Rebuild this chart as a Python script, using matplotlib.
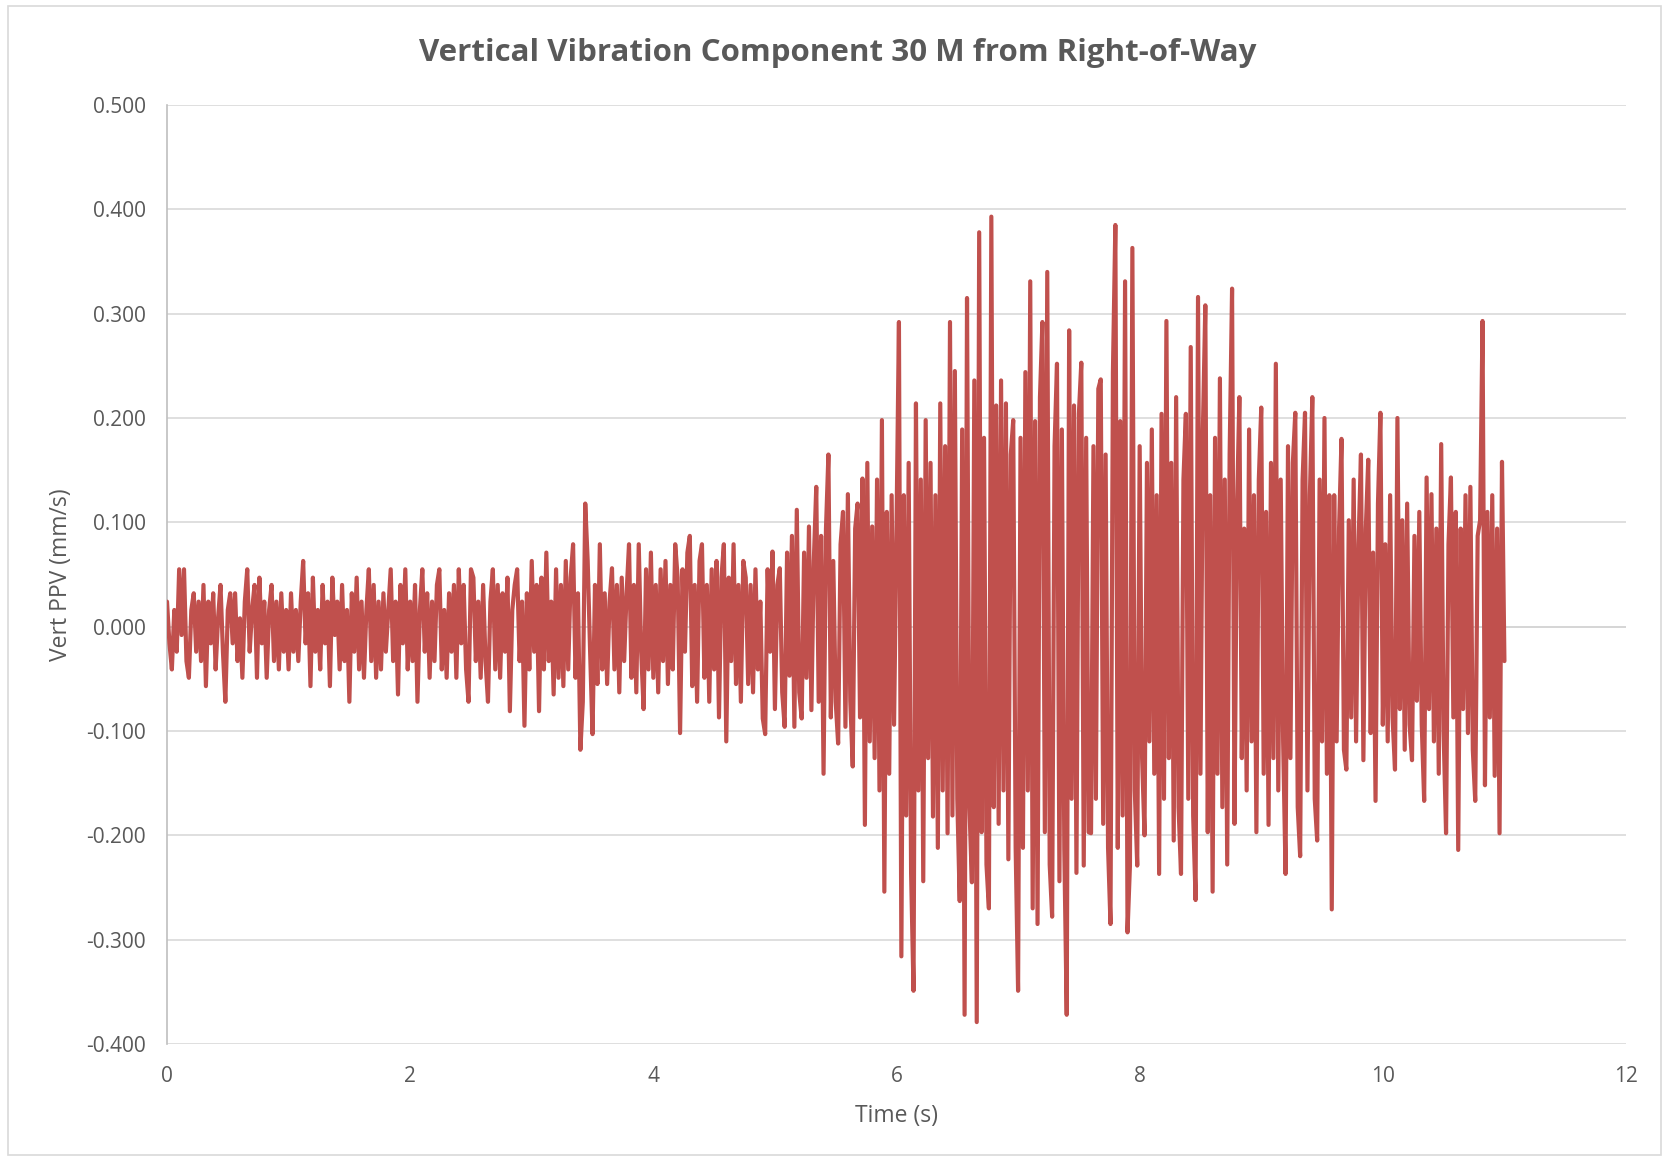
import numpy as np
import matplotlib
matplotlib.use("Agg")
import matplotlib.pyplot as plt
from matplotlib.patches import Rectangle
from matplotlib.ticker import FormatStrFormatter, MultipleLocator

# Vertical PPV, in micrometres per second (mm/s x 1000),
# sampled every 0.02 s; one list per second of record.
dt = 0.02
ppv_00 = [24, -16, -41, 16, -24, 55, -8, 55, -33, -49, 16, 32, -24, 24, -33, 40, -57, 24, -16, 32,
          -41, 8, 40, -24, -72, 16, 32, -16, 32, -33, 8, -49, 24, 55, -24, 16, 40, -49, 47, -16,
          24, -49, 16, 40, -33, 24, -41, 32, -24, 16]
ppv_01 = [-41, 32, -24, 16, -33, 24, 63, -16, 32, -57, 47, -24, 16, -41, 40, -16, 24, -57, 47, -8,
          24, -41, 40, -33, 16, -72, 32, -24, 47, -41, 24, -49, 16, 55, -33, 40, -49, 24, -41, 32,
          -24, 16, 55, -33, 24, -65, 40, -16, 55, -41]
ppv_02 = [24, -33, 40, -72, 16, 55, -24, 32, -49, 24, -33, 40, 55, -41, 16, -49, 32, -24, 40, -49,
          55, -16, 40, -41, -72, 55, 47, -33, 24, -49, 40, -33, -72, 24, 55, -41, 40, -49, 32, -24,
          47, -81, 16, 40, 55, -33, 24, -95, 32, -41]
ppv_03 = [63, -24, 40, -81, 47, -41, 71, -33, 24, -65, 55, -49, 40, -57, 63, -41, 47, 79, -49, 32,
          -118, -72, 118, 63, -24, -103, 40, -55, 79, -41, 32, -55, 24, 56, -41, 40, -63, 47, -33, 32,
          79, -49, 40, -63, 79, -24, -79, 55, -41, 71]
ppv_04 = [-49, 40, -63, 55, -33, 63, -55, 40, -41, 79, 47, -102, 55, -24, 71, 87, -57, 40, -72, 63,
          79, -49, 40, -72, 55, -41, 63, -87, 47, 79, -110, 47, -33, 79, -55, 40, -72, 63, 47, -55,
          40, -63, 55, -41, 24, -88, -103, 55, -24, 72]
ppv_05 = [-79, 40, 56, -63, -96, 71, -47, 87, -96, 112, -63, -88, 71, -49, 96, -80, 63, 134, -72, 87,
          -141, 94, 165, -87, 63, -72, -112, 79, 110, -96, 127, -71, -134, 94, 118, -87, 142, -190, 157, -110,
          96, -126, 141, -157, 198, -254, 110, -141, 126, -94]
ppv_06 = [94, 292, -316, 126, -181, 157, -236, -349, 214, -157, 141, -244, 198, -126, 157, -182, 126, -212, 214, -157,
          173, -198, 292, -181, 245, -165, -263, 189, -372, 315, -173, -245, 236, -379, 378, -197, 181, -228, -270, 393,
          -173, 212, -189, 236, -157, 214, -223, 165, 198, -212]
ppv_07 = [-349, 181, -212, 244, -157, 331, -270, 197, -285, 220, 292, -197, 340, -228, -278, 173, 252, -244, 189, -212,
          -372, 284, -165, 212, -236, 204, 253, -229, 181, -197, -198, 173, -165, 228, 237, -189, 165, -212, -285, 244,
          385, -212, 197, -181, 331, -293, -229, 363, -157, -229]
ppv_08 = [173, -126, -200, 157, -110, 189, -141, 126, -237, 204, -165, 293, -126, 157, -205, 220, -173, -237, 141, 204,
          -165, 268, -181, -262, 316, -141, 189, 308, -197, 126, -254, 181, -141, 238, -173, 141, -228, 165, 324, -189,
          110, 220, -126, 94, -157, 189, -110, 126, -197, 141]
ppv_09 = [210, -141, 110, -190, 157, -126, 252, -157, 141, -110, -237, 173, -126, 157, 205, -173, -220, 141, 205, -157,
          126, 220, -165, -205, 141, -110, 200, -141, 126, -271, 126, -110, 94, 180, -118, -137, 102, -87, 141, -110,
          79, 165, -128, 94, 160, -102, 71, -167, 118, 205]
ppv_10 = [-94, 79, -110, 126, -87, -137, 200, -79, 102, -118, 118, -94, -128, 87, -71, 110, -94, -167, 143, -79,
          127, -110, 94, -141, 175, -102, -198, 79, 143, -87, 110, -214, 94, -79, 126, -102, 134, -118, -167, 87,
          102, 293, -152, 110, -87, 126, -143, 94, -198, 158, -33]

ppv_um = np.concatenate([ppv_00, ppv_01, ppv_02, ppv_03, ppv_04, ppv_05,
                         ppv_06, ppv_07, ppv_08, ppv_09, ppv_10])
ppv = ppv_um / 1000.0
time = np.arange(len(ppv)) * dt

x_ticks = [0, 2, 4, 6, 8, 10, 12]
title = "Vertical Vibration Component 30 M from Right-of-Way"
x_label = "Time (s)"
y_label = "Vert PPV (mm/s)"

plt.rcParams['font.family'] = ['Open Sans', 'DejaVu Sans']
text_col = '#595959'
grid_col = '#D9D9D9'

W, H = 1663, 1157
fig = plt.figure(figsize=(W / 100, H / 100), dpi=100)
fig.patch.set_facecolor('white')
fig.add_artist(Rectangle((8 / W, 2 / H), (W - 10) / W, (H - 8) / H, transform=fig.transFigure,
                         fill=False, edgecolor=grid_col, lw=1.2))

ax = fig.add_axes([167 / W, 1 - 1044 / H, (1626 - 167) / W, (1044 - 105) / H])
ax.set_xlim(0, 12)
ax.set_ylim(-0.4, 0.5)
ax.yaxis.set_major_locator(MultipleLocator(0.1))
ax.yaxis.set_major_formatter(FormatStrFormatter('%.3f'))
ax.set_xticks(x_ticks)
ax.grid(axis='y', color=grid_col, lw=1.2, zorder=0)
ax.axhline(0, color='#BFBFBF', lw=1.2, zorder=1)
for s in ['top', 'right', 'bottom']:
    ax.spines[s].set_visible(False)
ax.spines['left'].set_color('#BFBFBF')
ax.spines['left'].set_linewidth(1.2)
ax.tick_params(length=0, labelsize=15, labelcolor=text_col)
ax.tick_params(axis='x', pad=16)
ax.tick_params(axis='y', pad=15)

ax.plot(time, ppv, color='#C0504D', lw=3.0, solid_joinstyle='round', solid_capstyle='round', zorder=3)

ax.set_xlabel(x_label, fontsize=16.5, color=text_col, labelpad=12)
ax.set_ylabel(y_label, fontsize=16.5, color=text_col, labelpad=10)
fig.text(838 / W, 1 - 53 / H, title, ha='center', va='center', fontsize=22.5,
         fontweight='bold', color=text_col)

fig.savefig('out.png', dpi=100, facecolor='white')
